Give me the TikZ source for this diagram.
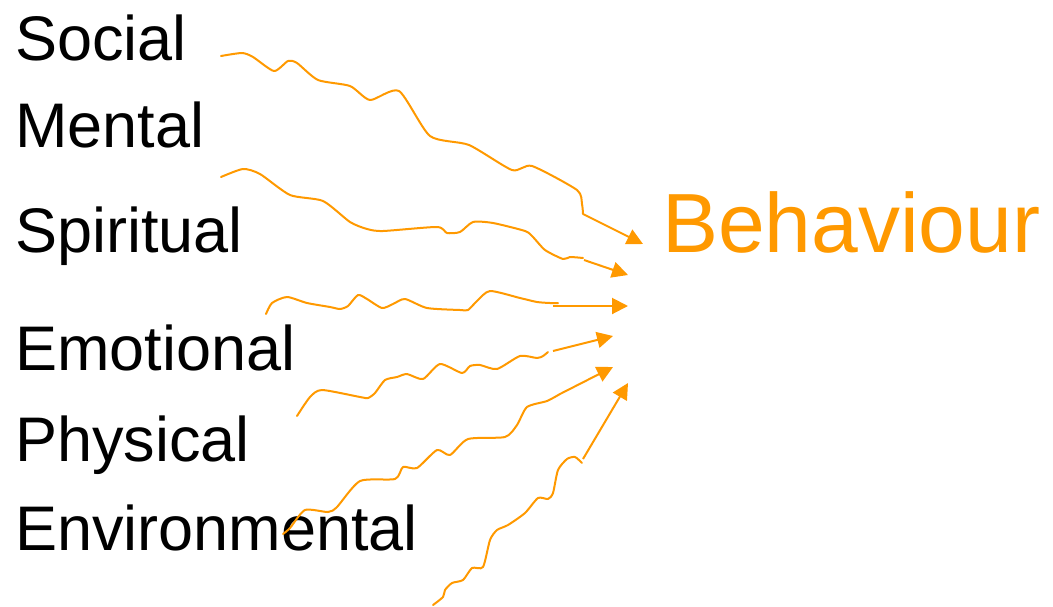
\documentclass[tikz,border=0pt]{standalone}
\usepackage{fontspec}
\setmainfont{Liberation Sans}
\usetikzlibrary{arrows.meta}
\definecolor{org}{HTML}{FF9900}
\tikzset{
  lbl/.style={anchor=base west,inner sep=0pt,font=\fontsize{63}{70}\selectfont},
  beh/.style={anchor=base west,inner sep=0pt,text=org,font=\fontsize{84}{90}\selectfont},
  wig/.style={draw=org,line width=2pt,line join=round,line cap=round},
  arr/.style={draw=org,line width=2pt,-{Triangle[length=16pt,width=16pt]}}
}
\begin{document}
\begin{tikzpicture}[x=1pt,y=-1pt]
\useasboundingbox (0,0) rectangle (1053,606);
\node[lbl] (social) at (15,60) {Social};
\node[lbl] (mental) at (15,147) {Mental};
\node[lbl] (spiritual) at (15,252) {Spiritual};
\node[lbl] (emotional) at (15,370) {Emotional};
\node[lbl] (physical) at (15,461) {Physical};
\node[lbl] (environmental) at (15,550) {Environmental};
\node[beh] (behaviour) at (662,252) {Behaviour};
% curve 1
\draw[wig] plot[smooth,tension=0.4] coordinates {(221,56) (242,53) (253,57) (274,71) (288,61) (297,63) (318,80) (350,86) (370,100) (399,91) (430,136) (469,145) (512,170) (532,166) (577,190) (582,204) (583,214)};
\coordinate (a1s) at (583,214); \coordinate (a1e) at (643,244);
\draw[arr] (a1s) -- (a1e);
% curve 2
\draw[wig] plot[smooth,tension=0.4] coordinates {(221,177) (243,169) (260,174) (290,195) (323,201) (350,222) (367,229) (383,231) (437,227) (447,233) (460,232) (473,222) (493,223) (525,231) (533,237) (545,250) (563,259) (570,257) (583,258)};
\coordinate (a2s) at (584,260); \coordinate (a2e) at (628,275);
\draw[arr] (a2s) -- (a2e);
% curve 3
\draw[wig] plot[smooth,tension=0.4] coordinates {(266,314) (272,303) (287,297) (307,303) (330,307) (340,309) (348,306) (358,295) (367,299) (382,308) (393,304) (405,299) (427,308) (460,310) (468,310) (477,301) (490,291) (520,298) (537,302) (550,303) (558,303)};
\coordinate (a3s) at (553,306); \coordinate (a3e) at (628,306);
\draw[arr] (a3s) -- (a3e);
% curve 4
\draw[wig] plot[smooth,tension=0.4] coordinates {(297,416) (310,397) (322,390) (360,397) (368,398) (375,393) (385,380) (397,377) (407,374) (423,379) (440,364) (462,373) (470,366) (480,365) (497,369) (520,356) (537,358) (543,356) (548,352)};
\coordinate (a4s) at (553,351); \coordinate (a4e) at (613,336);
\draw[arr] (a4s) -- (a4e);
% curve 5
\draw[wig] plot[smooth,tension=0.4] coordinates {(283,534) (290,528) (305,510) (328,512) (337,507) (360,481) (395,479) (403,467) (417,468) (437,450) (450,455) (468,439) (505,437) (517,425) (527,407) (547,401) (560,394)};
\coordinate (a5s) at (560,394); \coordinate (a5e) at (613,367);
\draw[arr] (a5s) -- (a5e);
% curve 6
\draw[wig] plot[smooth,tension=0.4] coordinates {(433,605) (443,597) (445,590) (452,583) (463,580) (472,568) (483,567) (490,540) (497,530) (508,525) (525,513) (538,498) (548,499) (553,493) (558,470) (567,459) (575,457) (582,463)};
\coordinate (a6s) at (583,459); \coordinate (a6e) at (628,383);
\draw[arr] (a6s) -- (a6e);
\end{tikzpicture}
\end{document}
